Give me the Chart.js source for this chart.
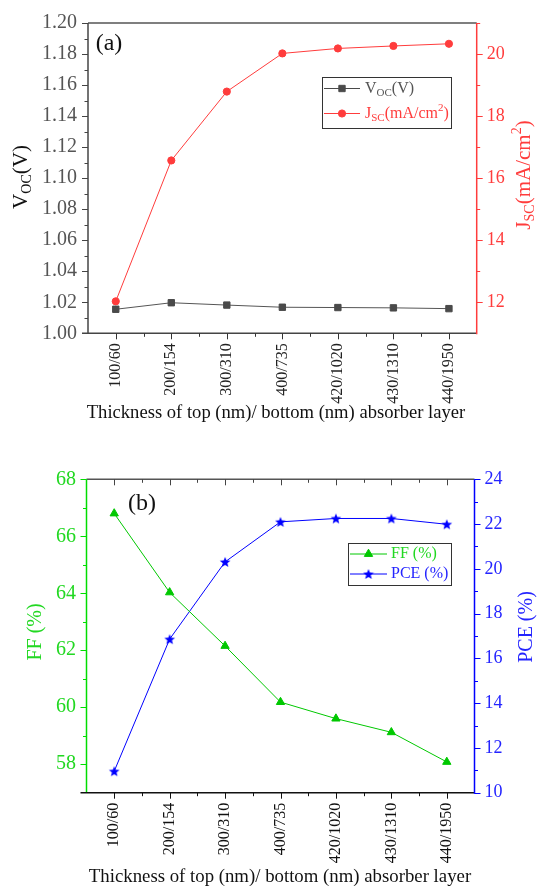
<!DOCTYPE html>
<html>
<head>
<meta charset="utf-8">
<script src="https://cdn.jsdelivr.net/npm/chart.js@4.4.0/dist/chart.umd.min.js"></script>
<style>
  body { margin: 0; background: #fff; }
  #wrap { position: relative; width: 537px; height: 887px; }
  canvas { position: absolute; left: 0; }
  #cA { top: 0; }
  #cB { top: 440px; }
</style>
</head>
<body>
<div id="wrap">
  <canvas id="cA" width="537" height="440"></canvas>
  <canvas id="cB" width="537" height="447"></canvas>
</div>
<script>
// data
const thickness = ['100/60', '200/154', '300/310', '400/735', '420/1020', '430/1310', '440/1950'];
const voc = [1.0155, 1.0197, 1.0182, 1.0168, 1.0166, 1.0164, 1.0159];
const jsc = [12.03, 16.57, 18.79, 20.02, 20.18, 20.26, 20.33];
const ff = [66.8, 64.03, 62.15, 60.18, 59.6, 59.12, 58.08];
const pce = [10.96, 16.86, 20.31, 22.1, 22.25, 22.25, 21.99];

const vocTicks = [1.00, 1.02, 1.04, 1.06, 1.08, 1.10, 1.12, 1.14, 1.16, 1.18, 1.20];
const jscTicks = [12, 14, 16, 18, 20];
const ffTicks = [58, 60, 62, 64, 66, 68];
const pceTicks = [10, 12, 14, 16, 18, 20, 22, 24];

const SERIF = "'Liberation Serif', 'Times New Roman', serif";
const RED = '#ff3c3c';
const GREY = '#4a4a4a';
const GREEN = '#00c800';
const GREEN_TXT = '#22d822';
const BLUE = '#0000ff';
const BLUE_TXT = '#2424ff';

Chart.defaults.font.family = SERIF;
Chart.defaults.animation = false;

// filled 5-point star for the PCE markers
function makeStar(color) {
  const c = document.createElement('canvas');
  c.width = 12; c.height = 12;
  const g = c.getContext('2d');
  g.fillStyle = color;
  g.beginPath();
  for (let i = 0; i < 10; i++) {
    const r = i % 2 === 0 ? 5.6 : 2.4;
    const ang = -Math.PI / 2 + i * Math.PI / 5;
    const px = 6 + r * Math.cos(ang), py = 6.5 + r * Math.sin(ang);
    if (i === 0) g.moveTo(px, py); else g.lineTo(px, py);
  }
  g.closePath();
  g.fill();
  return c;
}
const star = makeStar(BLUE);

function fixW(w) { return s => { s.width = w; }; }
function fixH(h) { return s => { s.height = h; }; }
function useTicks(arr) { return s => { s.ticks = arr.map(v => ({ value: v })); }; }

function rich(ctx, parts, x, y, size, color, rot, align) {
  ctx.save();
  ctx.translate(x, y);
  if (rot) ctx.rotate(rot);
  ctx.fillStyle = color;
  ctx.textBaseline = 'middle';
  ctx.textAlign = 'left';
  const fontOf = p => (p.s ? Math.round(size * 0.68) : size) + 'px ' + SERIF;
  const widths = parts.map(p => { ctx.font = fontOf(p); return ctx.measureText(p.t).width; });
  const total = widths.reduce((a, b) => a + b, 0);
  let cx = align === 'left' ? 0 : -total / 2;
  parts.forEach((p, i) => {
    ctx.font = fontOf(p);
    const dy = p.s === 'sub' ? size * 0.28 : p.s === 'sup' ? -size * 0.32 : 0;
    ctx.fillText(p.t, cx, dy);
    cx += widths[i];
  });
  ctx.restore();
}

function line(ctx, x1, y1, x2, y2, color, w) {
  ctx.save();
  ctx.strokeStyle = color;
  ctx.lineWidth = w;
  ctx.beginPath();
  ctx.moveTo(x1, y1);
  ctx.lineTo(x2, y2);
  ctx.stroke();
  ctx.restore();
}

function yMarks(ctx, chart, id, side, major, color) {
  const s = chart.scales[id], a = chart.chartArea;
  const step = major[1] - major[0];
  const x0 = side === 'left' ? a.left : a.right;
  const d = side === 'left' ? -1 : 1;
  ctx.save();
  ctx.strokeStyle = color;
  ctx.lineWidth = 1;
  ctx.beginPath();
  major.forEach(v => {
    const y = Math.round(s.getPixelForValue(v)) + 0.5;
    ctx.moveTo(x0, y); ctx.lineTo(x0 + 6 * d, y);
  });
  for (let v = major[0] - step / 2; v < s.max + 1e-9; v += step) {
    if (v < s.min + 1e-9) continue;
    const y = Math.round(s.getPixelForValue(v)) + 0.5;
    ctx.moveTo(x0, y); ctx.lineTo(x0 + 3.5 * d, y);
  }
  ctx.stroke();
  ctx.restore();
}

function xMarks(ctx, chart, y0, dir, color) {
  const s = chart.scales.x;
  ctx.save();
  ctx.strokeStyle = color;
  ctx.lineWidth = 1;
  ctx.beginPath();
  for (let i = 0; i < thickness.length; i++) {
    const x = Math.round(s.getPixelForValue(i)) + 0.5;
    ctx.moveTo(x, y0); ctx.lineTo(x, y0 + 6 * dir);
    if (i < thickness.length - 1) {
      const m = Math.round((s.getPixelForValue(i) + s.getPixelForValue(i + 1)) / 2) + 0.5;
      ctx.moveTo(m, y0); ctx.lineTo(m, y0 + 3.5 * dir);
    }
  }
  ctx.stroke();
  ctx.restore();
}

function legendRow(ctx, y, x1, x2, tx, color, pt, parts, textColor) {
  line(ctx, x1, y, x2, y, color, 1);
  ctx.save();
  ctx.fillStyle = color;
  ctx.strokeStyle = color;
  Chart.helpers.drawPoint(ctx, { pointStyle: pt.style, radius: pt.radius, rotation: 0, borderWidth: 1 }, (x1 + x2) / 2, y);
  ctx.restore();
  rich(ctx, parts, tx, y, 16, textColor, 0, 'left');
}

const xTitle = [{ t: 'Thickness of top (nm)/ bottom (nm) absorber layer' }];

const decorA = {
  id: 'decorA',
  afterDraw(chart) {
    const ctx = chart.ctx, a = chart.chartArea;
    line(ctx, a.left, a.top, a.right, a.top, '#555', 1.5);
    line(ctx, a.left, a.top, a.left, a.bottom, '#444', 1.5);
    line(ctx, a.left - 6, a.bottom, a.right, a.bottom, '#444', 1.5);
    line(ctx, a.right, a.top, a.right, a.bottom + 1, RED, 1.5);
    yMarks(ctx, chart, 'y', 'left', vocTicks, '#444');
    yMarks(ctx, chart, 'y1', 'right', jscTicks, RED);
    xMarks(ctx, chart, a.bottom, 1, '#333');

    rich(ctx, [{ t: 'V' }, { t: 'OC', s: 'sub' }, { t: '(V)' }], 21, 177, 21, '#111', -Math.PI / 2);
    rich(ctx, [{ t: 'J' }, { t: 'SC', s: 'sub' }, { t: '(mA/cm' }, { t: '2', s: 'sup' }, { t: ')' }], 524, 175, 21, RED, -Math.PI / 2);
    rich(ctx, xTitle, 276, 413, 18.6, '#111', 0);
    rich(ctx, [{ t: '(a)' }], 109, 44, 24, '#111', 0);

    // legend box
    ctx.save();
    ctx.fillStyle = '#fff';
    ctx.fillRect(322, 77, 129, 51);
    ctx.strokeStyle = '#333';
    ctx.lineWidth = 1;
    ctx.strokeRect(322.5, 77.5, 129, 51);
    ctx.restore();
    legendRow(ctx, 88.5, 324, 360, 365, GREY, { style: 'rect', radius: 4.5 },
      [{ t: 'V' }, { t: 'OC', s: 'sub' }, { t: '(V)' }], '#555');
    legendRow(ctx, 113.5, 324, 360, 365, RED, { style: 'circle', radius: 3.6 },
      [{ t: 'J' }, { t: 'SC', s: 'sub' }, { t: '(mA/cm' }, { t: '2', s: 'sup' }, { t: ')' }], RED);
  }
};

const decorB = {
  id: 'decorB',
  afterDraw(chart) {
    const ctx = chart.ctx, a = chart.chartArea;
    line(ctx, a.left, a.top, a.right, a.top, '#555', 1.5);
    line(ctx, a.left, a.top, a.left, a.bottom, '#00dd00', 1.5);
    line(ctx, a.left - 6, a.bottom, a.right, a.bottom, '#111', 1.5);
    line(ctx, a.right, a.top, a.right, a.bottom + 1, BLUE, 1.5);
    yMarks(ctx, chart, 'y', 'left', ffTicks, '#00dd00');
    yMarks(ctx, chart, 'y1', 'right', pceTicks, BLUE);
    xMarks(ctx, chart, a.bottom, 1, '#111');
    xMarks(ctx, chart, a.top, 1, '#444');

    rich(ctx, [{ t: 'FF (%)' }], 36, 192, 20, GREEN_TXT, -Math.PI / 2);
    rich(ctx, [{ t: 'PCE (%)' }], 527, 187, 20, BLUE_TXT, -Math.PI / 2);
    rich(ctx, xTitle, 280, 437, 18.8, '#111', 0);
    rich(ctx, [{ t: '(b)' }], 142, 64, 24, '#111', 0);

    ctx.save();
    ctx.fillStyle = '#fff';
    ctx.fillRect(348, 103, 103, 42);
    ctx.strokeStyle = '#333';
    ctx.lineWidth = 1;
    ctx.strokeRect(348.5, 103.5, 103, 42);
    ctx.restore();
    legendRow(ctx, 114, 350, 387, 391, GREEN, { style: 'triangle', radius: 4.8 }, [{ t: 'FF (%)' }], GREEN_TXT);
    legendRow(ctx, 134, 350, 387, 391, BLUE, { style: star, radius: 5 }, [{ t: 'PCE (%)' }], BLUE_TXT);
  }
};

function xScale(height, color) {
  return {
    type: 'category',
    offset: true,
    grid: { display: false, drawTicks: false },
    border: { display: false },
    ticks: { minRotation: 90, maxRotation: 90, autoSkip: false, padding: 10, color: color, font: { size: 16 } },
    afterFit: fixH(height)
  };
}

function yScale(pos, min, max, tickArr, color, size, pad, width, fmt) {
  return {
    position: pos,
    min: min,
    max: max,
    grid: { display: false, drawTicks: false },
    border: { display: false },
    afterBuildTicks: useTicks(tickArr),
    ticks: { padding: pad, color: color, font: { size: size }, callback: fmt },
    afterFit: fixW(width)
  };
}

new Chart(document.getElementById('cA'), {
  type: 'line',
  data: {
    labels: thickness,
    datasets: [
      {
        label: 'Voc(V)', data: voc, yAxisID: 'y',
        borderColor: '#555', borderWidth: 1,
        pointStyle: 'rect', pointRadius: 4.5, pointBorderWidth: 1,
        pointBackgroundColor: GREY, pointBorderColor: GREY
      },
      {
        label: 'Jsc(mA/cm2)', data: jsc, yAxisID: 'y1',
        borderColor: RED, borderWidth: 1,
        pointStyle: 'circle', pointRadius: 3.6, pointBorderWidth: 1,
        pointBackgroundColor: RED, pointBorderColor: RED
      }
    ]
  },
  options: {
    responsive: false,
    devicePixelRatio: 1,
    layout: { padding: { top: 20, left: 0, right: 0, bottom: 0 } },
    plugins: { legend: { display: false }, tooltip: { enabled: false } },
    scales: {
      x: xScale(440 - 333.3, '#222'),
      y: yScale('left', 1.0, 1.2, vocTicks, '#555', 20, 11, 88, v => v.toFixed(2)),
      y1: yScale('right', 11, 21, jscTicks, RED, 18, 10, 537 - 476.7, v => v)
    }
  },
  plugins: [decorA]
});

new Chart(document.getElementById('cB'), {
  type: 'line',
  data: {
    labels: thickness,
    datasets: [
      {
        label: 'FF (%)', data: ff, yAxisID: 'y',
        borderColor: GREEN, borderWidth: 1,
        pointStyle: 'triangle', pointRadius: 4.8, pointBorderWidth: 1,
        pointBackgroundColor: GREEN, pointBorderColor: GREEN
      },
      {
        label: 'PCE (%)', data: pce, yAxisID: 'y1',
        borderColor: BLUE, borderWidth: 1,
        pointStyle: star, pointRadius: 5
      }
    ]
  },
  options: {
    responsive: false,
    devicePixelRatio: 1,
    layout: { padding: { top: 39.3, left: 0, right: 0, bottom: 0 } },
    plugins: { legend: { display: false }, tooltip: { enabled: false } },
    scales: {
      x: xScale(447 - 352.7, '#111'),
      y: yScale('left', 57, 68, ffTicks, GREEN_TXT, 20, 10.5, 86.5, v => v),
      y1: yScale('right', 10, 24, pceTicks, BLUE_TXT, 18, 10, 537 - 474.5, v => v)
    }
  },
  plugins: [decorB]
});
</script>
</body>
</html>
